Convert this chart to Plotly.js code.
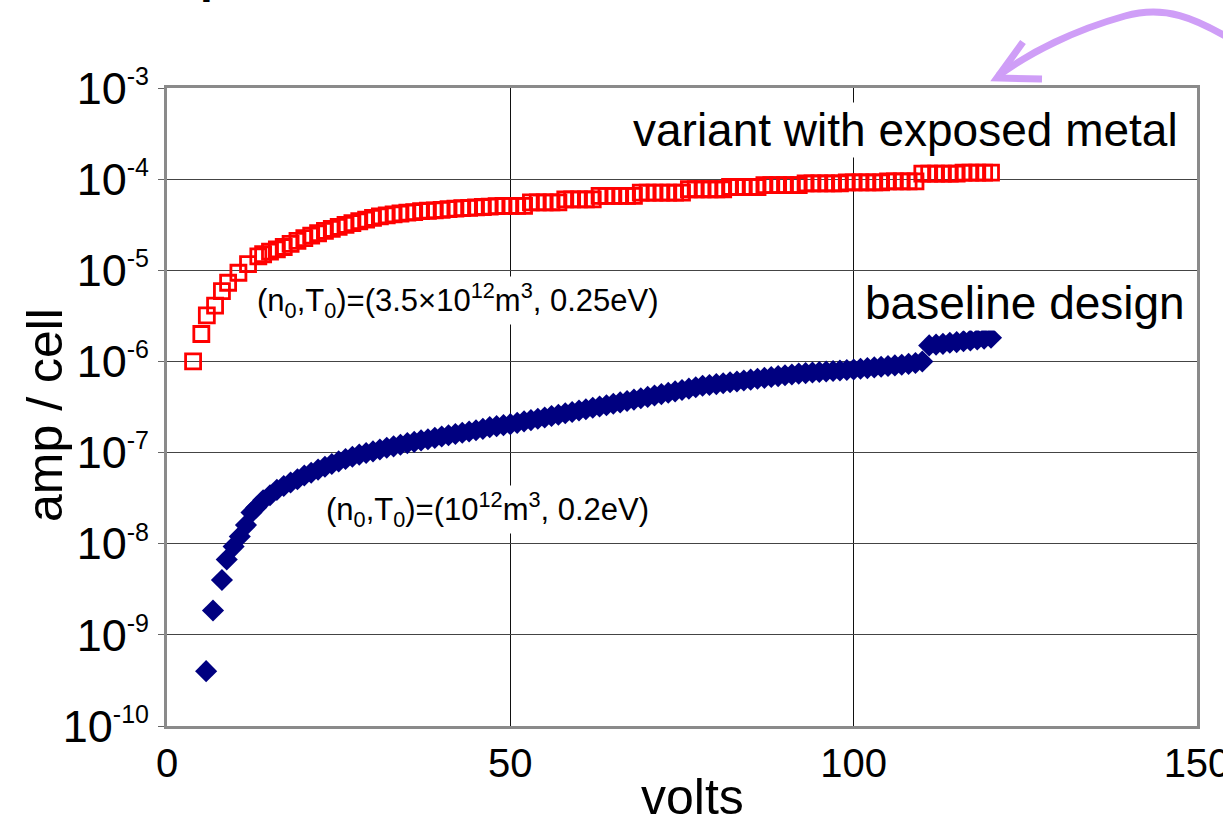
<!DOCTYPE html>
<html>
<head>
<meta charset="utf-8">
<script src="https://cdn.plot.ly/plotly-3.0.1.min.js"></script>
<style>html,body{margin:0;padding:0;background:#fff;overflow:hidden;}#chart{width:1223px;height:814px;}</style>
</head>
<body>
<div id="chart"></div>
<script>
// ---- data ----
var exposedVolts = [3.8, 5.0, 5.8, 7.0, 8.0, 8.9, 10.4, 11.8, 13.3,
  14, 15, 16, 17, 18, 19, 20, 21, 22, 23, 24, 25, 26, 27, 28, 29, 30,
  31, 32, 33, 34, 35, 36, 37, 38, 39, 40, 41, 42, 43, 44, 45, 46, 47, 48, 49, 50,
  51, 52, 53, 54, 55, 56, 57, 58, 59, 60, 61, 62, 63, 64, 65, 66, 67, 68, 69, 70,
  71, 72, 73, 74, 75, 76, 77, 78, 79, 80, 81, 82, 83, 84, 85, 86, 87, 88, 89, 90,
  91, 92, 93, 94, 95, 96, 97, 98, 99, 100, 101, 102, 103, 104, 105, 106, 107, 108, 109, 110,
  111, 112, 113, 114, 115, 116, 117, 118, 119, 120];
var exposedAmps = [1.0e-6, 2.0e-6, 3.2e-6, 4.1e-6, 5.9e-6, 7.3e-6, 9.4e-6, 1.17e-5, 1.42e-5,
  1.50e-5, 1.60e-5, 1.70e-5, 1.80e-5, 1.95e-5, 2.10e-5, 2.25e-5, 2.40e-5, 2.55e-5, 2.70e-5, 2.85e-5,
  3.00e-5, 3.15e-5, 3.30e-5, 3.45e-5, 3.60e-5, 3.75e-5, 3.90e-5, 4.00e-5, 4.10e-5, 4.20e-5,
  4.30e-5, 4.35e-5, 4.45e-5, 4.50e-5, 4.55e-5, 4.60e-5, 4.70e-5, 4.75e-5, 4.80e-5, 4.85e-5,
  4.90e-5, 4.95e-5, 5.00e-5, 5.05e-5, 5.10e-5, 5.10e-5, 5.10e-5, 5.10e-5,
  5.55e-5, 5.55e-5, 5.55e-5, 5.55e-5, 5.55e-5,
  6.00e-5, 6.00e-5, 6.00e-5, 6.00e-5, 6.00e-5,
  6.55e-5, 6.55e-5, 6.55e-5, 6.55e-5, 6.55e-5, 6.55e-5,
  7.10e-5, 7.10e-5, 7.10e-5, 7.10e-5, 7.10e-5, 7.10e-5, 7.10e-5,
  7.75e-5, 7.75e-5, 7.75e-5, 7.75e-5, 7.75e-5, 7.75e-5,
  8.20e-5, 8.20e-5, 8.20e-5, 8.20e-5, 8.20e-5,
  8.60e-5, 8.60e-5, 8.60e-5, 8.60e-5, 8.60e-5, 8.60e-5,
  9.00e-5, 9.00e-5, 9.00e-5, 9.00e-5, 9.00e-5, 9.00e-5,
  9.20e-5, 9.20e-5, 9.20e-5, 9.20e-5, 9.20e-5, 9.20e-5,
  9.45e-5, 9.45e-5, 9.45e-5, 9.45e-5, 9.45e-5,
  1.15e-4, 1.15e-4, 1.15e-4, 1.15e-4, 1.15e-4, 1.15e-4,
  1.18e-4, 1.18e-4, 1.18e-4, 1.18e-4, 1.18e-4];

var baselineVolts = [5.7, 6.7, 8.0, 8.7, 9.7, 10.6, 11.5, 12.3, 13,
  14, 15, 16, 17, 18, 19, 20, 21, 22, 23, 24, 25, 26, 27, 28, 29, 30,
  31, 32, 33, 34, 35, 36, 37, 38, 39, 40, 41, 42, 43, 44, 45, 46, 47, 48, 49, 50,
  51, 52, 53, 54, 55, 56, 57, 58, 59, 60, 61, 62, 63, 64, 65, 66, 67, 68, 69, 70,
  71, 72, 73, 74, 75, 76, 77, 78, 79, 80, 81, 82, 83, 84, 85, 86, 87, 88, 89, 90,
  91, 92, 93, 94, 95, 96, 97, 98, 99, 100, 101, 102, 103, 104, 105, 106, 107, 108, 109, 110,
  111, 112, 113, 114, 115, 116, 117, 118, 119, 120];
var baselineAmps = [4.0e-10, 1.85e-9, 4.0e-9, 6.7e-9, 9.3e-9, 1.2e-8, 1.6e-8, 2.2e-8, 2.5e-8,
  3.0e-8, 3.4e-8, 3.9e-8, 4.3e-8, 4.7e-8, 5.1e-8, 5.6e-8, 6.0e-8, 6.5e-8, 7.0e-8, 7.5e-8,
  8.0e-8, 8.5e-8, 9.0e-8, 9.5e-8, 9.9e-8, 1.03e-7, 1.08e-7, 1.13e-7, 1.17e-7, 1.22e-7,
  1.27e-7, 1.31e-7, 1.36e-7, 1.40e-7, 1.45e-7, 1.50e-7, 1.55e-7, 1.60e-7, 1.65e-7, 1.70e-7,
  1.76e-7, 1.82e-7, 1.90e-7, 1.95e-7, 2.00e-7, 2.05e-7,
  2.12e-7, 2.20e-7, 2.27e-7, 2.35e-7, 2.43e-7, 2.52e-7, 2.60e-7, 2.70e-7, 2.79e-7, 2.89e-7,
  2.99e-7, 3.10e-7, 3.20e-7, 3.31e-7, 3.43e-7, 3.55e-7, 3.68e-7, 3.81e-7, 3.94e-7, 4.08e-7,
  4.23e-7, 4.38e-7, 4.53e-7, 4.69e-7, 4.86e-7, 5.03e-7, 5.20e-7, 5.40e-7, 5.52e-7, 5.64e-7,
  5.77e-7, 5.90e-7, 6.03e-7, 6.17e-7, 6.31e-7, 6.45e-7, 6.60e-7, 6.75e-7, 6.90e-7, 7.05e-7,
  7.20e-7, 7.35e-7, 7.45e-7, 7.55e-7, 7.65e-7, 7.75e-7, 7.85e-7, 7.95e-7, 8.05e-7, 8.15e-7,
  8.30e-7, 8.45e-7, 8.60e-7, 8.75e-7, 8.90e-7, 9.05e-7, 9.20e-7, 9.40e-7, 9.60e-7, 1.00e-6,
  1.50e-6, 1.53e-6, 1.56e-6, 1.60e-6, 1.63e-6, 1.67e-6, 1.70e-6, 1.74e-6, 1.78e-6, 1.82e-6];

var yTickVals = [1e-10, 1e-9, 1e-8, 1e-7, 1e-6, 1e-5, 1e-4, 1e-3];
var yTickExps = ['-10', '-9', '-8', '-7', '-6', '-5', '-4', '-3'];
var xTickVals = [0, 50, 100, 150];

// ---- layout helpers (decoration only) ----
var W = 1223, H = 814, ML = 167, MR = 26, MT = 88, MB = 88;
var PW = W - ML - MR, PH = H - MT - MB;
function px(x) { return (x - ML) / PW; }
function py(y) { return (H - MB - y) / PH; }
function pt(x, y) { return px(x) + ',' + py(y); }

var FONT = 'Liberation Sans, Arial, sans-serif';
var yTickText = yTickExps.map(function (e) {
  return '10<sup><span style="font-size:25px">' + e + '</span></sup>';
});

var traces = [
  {
    x: exposedVolts, y: exposedAmps, type: 'scatter', mode: 'markers', name: 'variant with exposed metal',
    marker: {symbol: 'square-open', size: 15, color: '#ff0000', line: {color: '#ff0000', width: 2.8}},
    cliponaxis: false
  },
  {
    x: baselineVolts, y: baselineAmps, type: 'scatter', mode: 'markers', name: 'baseline design',
    marker: {symbol: 'diamond', size: 17, color: '#000080', line: {width: 0}},
    cliponaxis: false
  }
];

var layout = {
  width: W, height: H,
  margin: {l: ML, r: MR, t: MT, b: MB, pad: 0},
  paper_bgcolor: '#ffffff', plot_bgcolor: '#ffffff',
  showlegend: false,
  font: {family: FONT, color: '#000'},
  xaxis: {
    range: [0, 150], tickvals: xTickVals, ticktext: xTickVals.map(String),
    showgrid: true, gridcolor: '#111', gridwidth: 1.5, zeroline: false,
    showline: true, mirror: true, linecolor: '#8a8a8a', linewidth: 3,
    ticks: '', tickfont: {family: FONT, size: 40, color: '#000'}, automargin: false,
    ticklabeloverflow: 'allow'
  },
  yaxis: {
    type: 'log', range: [-10, -3], tickvals: yTickVals, ticktext: yTickText,
    showgrid: true, gridcolor: '#444', gridwidth: 1, zeroline: false,
    showline: true, mirror: true, linecolor: '#8a8a8a', linewidth: 3,
    ticks: 'outside', ticklen: 6, tickcolor: '#666',
    tickfont: {family: FONT, size: 45, color: '#000'}, automargin: false,
    ticklabeloverflow: 'allow'
  },
  annotations: [
    {xref: 'paper', yref: 'paper', x: px(55), y: py(-24), xanchor: 'left', yanchor: 'middle',
     text: '<b>Atmospheric environment constant</b>', showarrow: false,
     font: {family: FONT, size: 46, color: '#000'}},
    {xref: 'x', yref: 'y', x: 107.5, y: -3.46, text: 'variant with exposed metal', showarrow: false,
     xanchor: 'center', yanchor: 'middle',
     bgcolor: '#ffffff', font: {family: FONT, size: 46, color: '#000'}},
    {xref: 'x', yref: 'y', x: 124.9, y: -5.36, text: 'baseline design', showarrow: false,
     xanchor: 'center', yanchor: 'middle',
     bgcolor: '#ffffff', font: {family: FONT, size: 46, color: '#000'}},
    {xref: 'x', yref: 'y', x: 42.4, y: -5.33,
     text: '(n<sub>0</sub>,T<sub>0</sub>)=(3.5×10<sup>12</sup>m<sup>3</sup>, 0.25eV)', showarrow: false,
     xanchor: 'center', yanchor: 'middle',
     bgcolor: '#ffffff', font: {family: FONT, size: 31, color: '#000'}},
    {xref: 'x', yref: 'y', x: 46.7, y: -7.63,
     text: '(n<sub>0</sub>,T<sub>0</sub>)=(10<sup>12</sup>m<sup>3</sup>, 0.2eV)', showarrow: false,
     xanchor: 'center', yanchor: 'middle',
     bgcolor: '#ffffff', font: {family: FONT, size: 31, color: '#000'}},
    {xref: 'paper', yref: 'paper', x: px(45), y: py(415), text: 'amp / cell', textangle: -90,
     xanchor: 'center', yanchor: 'middle',
     showarrow: false, font: {family: FONT, size: 50, color: '#000'}},
    {xref: 'paper', yref: 'paper', x: px(692), y: py(797), text: 'volts',
     xanchor: 'center', yanchor: 'middle',
     showarrow: false, font: {family: FONT, size: 50, color: '#000'}}
  ],
  shapes: [
    {type: 'path', xref: 'paper', yref: 'paper',
     path: 'M ' + pt(1232, 40) + ' C ' + pt(1195, 18) + ' ' + pt(1165, 5) + ' ' + pt(1125, 16) +
           ' C ' + pt(1075, 30) + ' ' + pt(1030, 52) + ' ' + pt(998, 76),
     line: {color: '#cf9ef7', width: 7}},
    {type: 'path', xref: 'paper', yref: 'paper',
     path: 'M ' + pt(1023, 42) + ' L ' + pt(997, 78) + ' L ' + pt(1042, 79),
     line: {color: '#cf9ef7', width: 7}}
  ]
};

Plotly.newPlot('chart', traces, layout, {staticPlot: true, displayModeBar: false});
</script>
</body>
</html>
